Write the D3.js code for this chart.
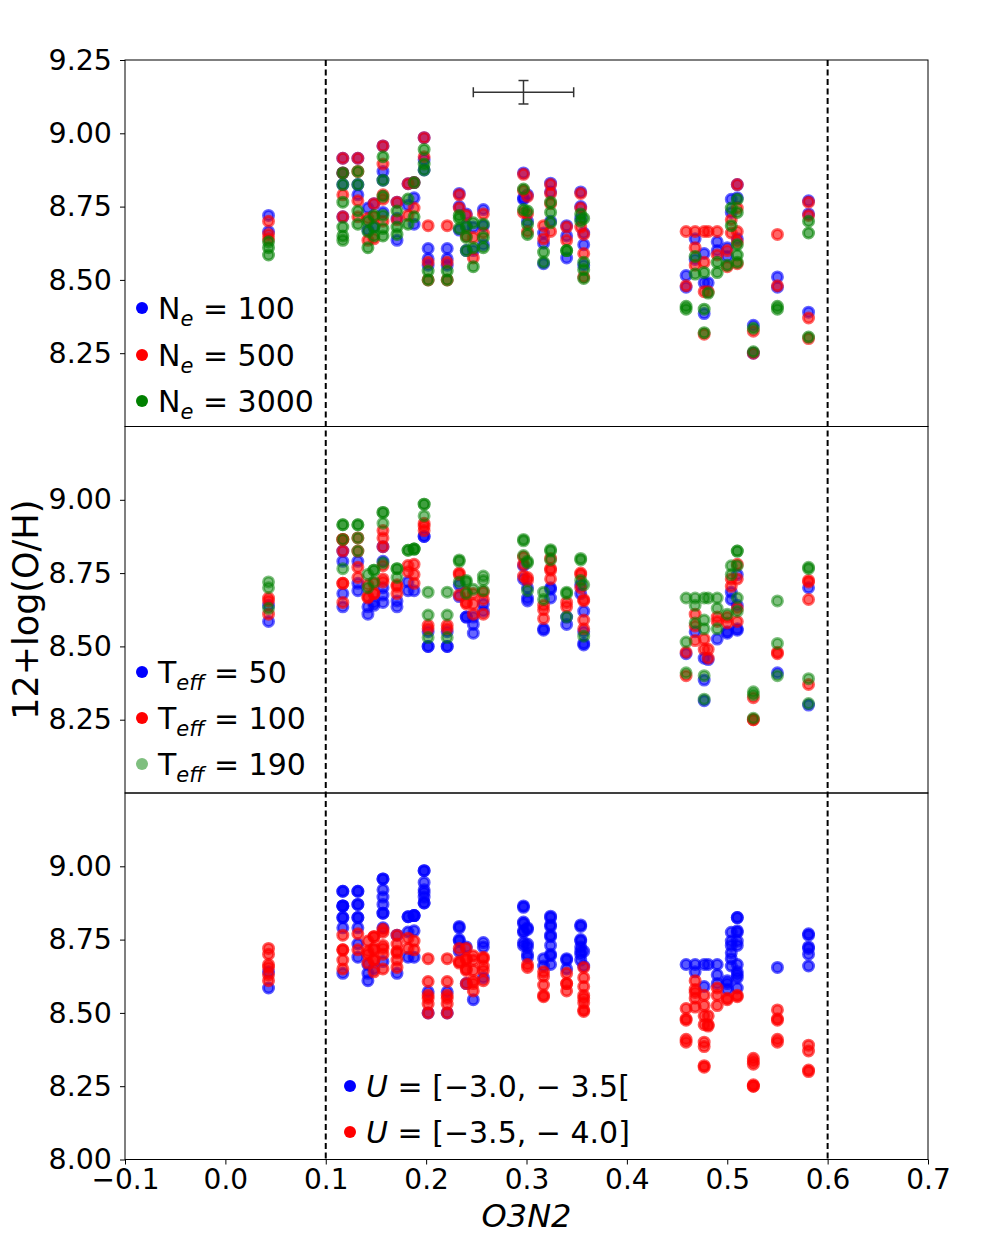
<!DOCTYPE html>
<html>
<head>
<meta charset="utf-8">
<script src="https://cdn.jsdelivr.net/npm/d3@7"></script>
<style>
  body { margin: 0; background: #fff; }
  text { font-family: "DejaVu Sans", sans-serif; }
</style>
</head>
<body>
<svg id="chart" width="1000" height="1235"></svg>
<script>
// O3N2 value of each galaxy
const galaxyX = [0.043, 0.117, 0.132, 0.142, 0.148, 0.157, 0.171, 0.182, 0.188, 0.198,
  0.202, 0.221, 0.233, 0.240, 0.247, 0.257, 0.297, 0.301, 0.317, 0.324, 0.340, 0.354,
  0.357, 0.459, 0.468, 0.477, 0.481, 0.490, 0.500, 0.504, 0.510, 0.526, 0.550, 0.581];

// model abundances per galaxy: [12+log(O/H), Ne index, Teff index, U index]
const models = [
  [[8.72,0,2,1],[8.70,1,2,1],[8.665,0,1,1],[8.655,1,1,1],[8.64,1,0,0],[8.63,2,2,1],[8.61,2,1,1],[8.585,2,0,0]],
  [[8.915,0,2,0],[8.915,1,2,0],[8.865,0,1,0],[8.865,1,1,0],[8.865,2,2,0],[8.825,0,0,0],[8.825,2,1,0],[8.79,1,0,0],[8.765,2,2,1],[8.715,0,1,1],[8.715,1,1,1],[8.68,2,0,1],[8.65,2,1,1],[8.635,2,0,0]],
  [[8.915,0,2,0],[8.915,1,2,0],[8.87,1,1,0],[8.87,2,2,0],[8.825,2,2,0],[8.825,0,1,0],[8.79,0,0,0],[8.77,1,1,1],[8.735,2,1,0],[8.715,1,0,1],[8.69,2,0,0]],
  [[8.745,0,2,1],[8.71,1,1,1],[8.70,2,2,1],[8.67,0,1,1],[8.665,2,1,0],[8.635,1,0,0],[8.61,2,0,0]],
  [[8.76,0,2,1],[8.76,1,2,1],[8.72,2,2,1],[8.715,1,1,1],[8.68,0,1,1],[8.68,2,1,1],[8.65,2,0,0],[8.64,1,0,1]],
  [[8.957,0,2,0],[8.957,1,2,0],[8.92,2,2,0],[8.895,1,1,0],[8.87,0,1,0],[8.84,0,0,0],[8.84,2,1,0],[8.79,1,0,0],[8.785,2,2,1],[8.775,1,1,1],[8.73,0,1,1],[8.72,2,1,1],[8.70,1,0,1],[8.675,2,0,0],[8.65,2,0,1]],
  [[8.765,0,2,0],[8.765,1,2,1],[8.735,2,2,1],[8.71,0,1,1],[8.705,1,1,1],[8.68,2,1,1],[8.655,2,0,1],[8.635,0,0,0]],
  [[8.828,0,2,0],[8.828,1,2,0],[8.776,2,1,0],[8.755,0,1,1],[8.72,1,0,1],[8.69,2,0,0]],
  [[8.832,0,2,0],[8.832,1,2,0],[8.832,2,2,0],[8.78,0,1,0],[8.745,1,1,1],[8.715,2,1,1],[8.69,0,0,0]],
  [[8.985,0,2,0],[8.985,1,2,0],[8.945,2,2,0],[8.92,1,1,0],[8.91,0,1,0],[8.895,2,1,0],[8.875,2,0,0],[8.875,0,0,0]],
  [[8.685,1,2,1],[8.607,0,2,1],[8.572,0,1,0],[8.56,1,1,1],[8.55,0,0,1],[8.53,2,2,1],[8.50,2,0,0],[8.50,1,0,1]],
  [[8.685,1,2,1],[8.607,0,2,1],[8.572,0,1,0],[8.56,1,1,1],[8.55,0,0,1],[8.53,2,2,1],[8.50,2,0,0],[8.50,1,0,1]],
  [[8.795,0,2,0],[8.79,1,2,0],[8.75,0,1,0],[8.745,1,1,0],[8.72,2,2,1],[8.71,2,0,0],[8.675,2,1,1],[8.67,0,0,1]],
  [[8.725,0,2,0],[8.72,1,2,1],[8.685,0,1,1],[8.68,2,2,1],[8.65,1,1,1],[8.645,2,1,1],[8.60,2,0,0],[8.60,0,0,1]],
  [[8.695,2,2,1],[8.68,0,1,1],[8.645,1,1,1],[8.61,2,1,1],[8.60,0,0,1],[8.575,1,0,1],[8.545,2,0,0]],
  [[8.74,0,2,0],[8.725,1,2,0],[8.69,2,2,1],[8.685,0,1,1],[8.66,1,1,1],[8.645,2,0,1],[8.62,0,0,0],[8.61,2,1,1]],
  [[8.865,0,2,0],[8.86,1,2,0],[8.81,2,2,0],[8.805,1,1,0],[8.78,0,1,0],[8.775,0,0,0],[8.74,2,1,0],[8.73,1,0,0]],
  [[8.79,0,2,0],[8.785,1,2,0],[8.735,2,1,0],[8.725,1,1,0],[8.70,0,0,0],[8.69,2,2,0],[8.665,1,0,1],[8.655,2,0,1]],
  [[8.685,1,2,0],[8.66,0,2,0],[8.64,1,1,1],[8.625,0,1,1],[8.595,2,1,1],[8.56,2,0,1],[8.555,0,0,1]],
  [[8.83,0,2,0],[8.825,1,2,0],[8.80,0,1,0],[8.795,1,2,0],[8.765,2,1,0],[8.76,1,1,0],[8.73,2,1,0],[8.70,0,0,0],[8.695,2,0,0],[8.665,1,0,0]],
  [[8.685,0,2,0],[8.68,1,2,0],[8.65,0,1,0],[8.635,1,1,1],[8.60,2,0,1],[8.60,2,2,1],[8.575,0,0,1]],
  [[8.80,0,2,0],[8.795,1,2,0],[8.75,0,1,0],[8.745,1,1,0],[8.725,2,2,0],[8.71,0,0,0],[8.70,2,1,0],[8.68,1,0,0]],
  [[8.71,2,2,0],[8.66,0,1,0],[8.655,1,1,1],[8.62,0,0,1],[8.59,1,1,1],[8.56,2,1,1],[8.55,0,0,1],[8.535,2,2,1],[8.51,1,0,1],[8.505,2,0,1]],
  [[8.665,1,2,0],[8.515,0,2,1],[8.48,1,1,1],[8.475,0,0,1],[8.41,2,2,1],[8.40,2,1,1]],
  [[8.665,1,2,0],[8.64,0,2,0],[8.61,1,1,1],[8.58,2,2,1],[8.57,0,1,1],[8.55,1,0,1],[8.52,2,1,1]],
  [[8.665,1,2,0],[8.59,0,2,0],[8.56,1,2,1],[8.525,2,1,1],[8.49,0,1,1],[8.46,1,0,1],[8.40,2,2,1],[8.385,0,0,1],[8.32,2,2,1],[8.315,1,0,1]],
  [[8.665,1,2,0],[8.49,0,1,1],[8.46,1,1,1],[8.455,2,0,1]],
  [[8.665,1,2,0],[8.63,0,2,0],[8.60,0,1,0],[8.585,1,1,1],[8.56,2,2,1],[8.525,2,0,1]],
  [[8.61,0,2,0],[8.60,1,1,0],[8.58,0,1,0],[8.55,2,0,1],[8.545,1,0,1]],
  [[8.775,0,2,0],[8.745,2,2,0],[8.73,0,1,0],[8.705,1,1,0],[8.685,2,0,0],[8.66,1,0,0]],
  [[8.825,0,2,0],[8.825,1,2,0],[8.78,0,1,0],[8.775,2,2,0],[8.745,1,0,0],[8.73,2,1,0],[8.665,1,2,0],[8.64,0,0,0],[8.63,1,1,0],[8.62,2,2,0],[8.585,2,1,0],[8.56,2,0,1],[8.555,1,0,1]],
  [[8.345,0,2,1],[8.335,2,2,1],[8.325,1,1,1],[8.255,2,2,1],[8.25,1,1,1],[8.25,0,1,1]],
  [[8.655,1,2,0],[8.51,0,2,1],[8.48,1,1,1],[8.475,0,1,1],[8.41,2,0,1],[8.40,2,2,1]],
  [[8.77,0,2,0],[8.765,1,2,0],[8.725,0,1,0],[8.72,1,1,0],[8.70,2,0,0],[8.66,2,1,0],[8.39,0,2,1],[8.37,1,1,1],[8.305,2,2,1],[8.30,1,0,1]]
];

const neLabels = ["100", "500", "3000"];
const teffLabels = ["50", "100", "190"];
const uLabels = ["[\u22123.0, \u2212 3.5[", "[\u22123.5, \u2212 4.0]"];

const xTicks = [-0.1, 0.0, 0.1, 0.2, 0.3, 0.4, 0.5, 0.6, 0.7];
const yTicksTop = [8.25, 8.50, 8.75, 9.00, 9.25];
const yTicksMid = [8.25, 8.50, 8.75, 9.00];
const yTicksBot = [8.00, 8.25, 8.50, 8.75, 9.00];
const limitsX = [0.1, 0.6];
// representative uncertainty: [x, y, xerr, yerr]
const errBar = [0.297, 9.14, 0.05, 0.04];

const svg = d3.select("#chart");
const plotLeft = 125, plotRight = 928, plotTop = 60, panelH = 366.5;

const x = d3.scaleLinear().domain([-0.1, 0.7]).range([plotLeft, plotRight]);

const points = [];
galaxyX.forEach((gx, i) => {
  models[i].forEach(m => points.push({ x: gx, y: m[0], ne: m[1], teff: m[2], u: m[3] }));
});

const panels = [
  { key: "ne", ticks: yTicksTop, colors: ["#0000ff", "#ff0000", "#008000"],
    alpha: [0.6, 0.6, 0.6], legAlpha: [1, 1, 1], legX: 142, legY: [308, 355, 401],
    labels: neLabels, sym: "N", sub: "e" },
  { key: "teff", ticks: yTicksMid, colors: ["#0000ff", "#ff0000", "#008000"],
    alpha: [0.6, 0.6, 0.5], legAlpha: [1, 1, 0.5], legX: 142, legY: [672, 718, 764],
    labels: teffLabels, sym: "T", sub: "eff" },
  { key: "u", ticks: yTicksBot, colors: ["#0000ff", "#ff0000"],
    alpha: [0.65, 0.65], legAlpha: [1, 1], legX: 350, legY: [1086, 1132],
    labels: uLabels, sym: "U", sub: null }
];

panels.forEach((p, i) => {
  const y0 = plotTop + panelH * i, y1 = y0 + panelH;
  const y = d3.scaleLinear().domain([8.0, 9.25]).range([y1, y0]);
  const g = svg.append("g");

  // points, drawn series by series so later ones sit on top
  p.colors.forEach((c, k) => {
    g.append("g")
      .selectAll("circle")
      .data(points.filter(d => d[p.key] === k))
      .enter()
      .append("circle")
      .attr("cx", d => x(d.x))
      .attr("cy", d => y(d.y))
      .attr("r", 5)
      .attr("fill", c)
      .attr("fill-opacity", p.alpha[k])
      .attr("stroke", c)
      .attr("stroke-opacity", p.alpha[k])
      .attr("stroke-width", 3);
  });

  // y axis
  const ax = g.append("g")
    .attr("transform", `translate(${plotLeft},0)`)
    .call(d3.axisLeft(y).tickValues(p.ticks).tickFormat(d3.format(".2f")).tickSize(5).tickPadding(8));
  ax.select(".domain").remove();
  ax.selectAll("text").attr("font-size", 28.5).attr("fill", "#000")
    .style("font-family", "DejaVu Sans, sans-serif");
  ax.selectAll("line").attr("stroke", "#000");

  // frame
  g.append("rect")
    .attr("x", plotLeft).attr("y", y0)
    .attr("width", plotRight - plotLeft).attr("height", panelH)
    .attr("fill", "none").attr("stroke", "#000").attr("stroke-width", 1);

  // legend
  p.labels.forEach((lab, k) => {
    const ly = p.legY[k];
    g.append("circle")
      .attr("cx", p.legX).attr("cy", ly).attr("r", 6)
      .attr("fill", p.colors[k]).attr("fill-opacity", p.legAlpha[k]);
    const t = g.append("text")
      .attr("x", p.legX + 16).attr("y", ly + 11)
      .attr("font-size", 30).attr("fill", "#000");
    if (p.sub) {
      t.append("tspan").text(p.sym);
      t.append("tspan").attr("dy", 7).attr("font-size", 21).attr("font-style", "italic").text(p.sub);
      t.append("tspan").attr("dy", -7).text(" = " + lab);
    } else {
      t.append("tspan").attr("font-style", "italic").text(p.sym);
      t.append("tspan").text(" = " + lab);
    }
  });

  if (i === 0) {
    // error bar
    const [ex, ey, exe, eye] = errBar;
    const eb = g.append("g").attr("stroke", "#333").attr("stroke-width", 1.5);
    eb.append("line").attr("x1", x(ex - exe)).attr("x2", x(ex + exe)).attr("y1", y(ey)).attr("y2", y(ey));
    eb.append("line").attr("x1", x(ex)).attr("x2", x(ex)).attr("y1", y(ey - eye)).attr("y2", y(ey + eye));
    [ex - exe, ex + exe].forEach(v => eb.append("line")
      .attr("x1", x(v)).attr("x2", x(v)).attr("y1", y(ey) - 5).attr("y2", y(ey) + 5));
    [ey - eye, ey + eye].forEach(v => eb.append("line")
      .attr("x1", x(ex) - 5).attr("x2", x(ex) + 5).attr("y1", y(v)).attr("y2", y(v)));
  }

  if (i === panels.length - 1) {
    const xa = g.append("g")
      .attr("transform", `translate(0,${y1})`)
      .call(d3.axisBottom(x).tickValues(xTicks).tickFormat(d => d3.format(".1f")(d).replace("-", "\u2212")).tickSize(5).tickPadding(5));
    xa.select(".domain").remove();
    xa.selectAll("text").attr("font-size", 28).attr("fill", "#000")
      .style("font-family", "DejaVu Sans, sans-serif");
    xa.selectAll("line").attr("stroke", "#000");
  }
});

// dashed limits spanning all panels
limitsX.forEach(v => {
  svg.append("line")
    .attr("x1", x(v)).attr("x2", x(v))
    .attr("y1", plotTop).attr("y2", plotTop + panelH * 3)
    .attr("stroke", "#000").attr("stroke-width", 2)
    .attr("stroke-dasharray", "6,3.5");
});

// axis titles
svg.append("text")
  .attr("transform", `translate(38,${plotTop + panelH * 1.5}) rotate(-90)`)
  .attr("text-anchor", "middle")
  .attr("font-size", 35)
  .text("12+log(O/H)");

svg.append("text")
  .attr("x", (plotLeft + plotRight) / 2).attr("y", 1227)
  .attr("text-anchor", "middle")
  .attr("font-size", 32)
  .attr("font-style", "italic")
  .text("O3N2");
</script>
</body>
</html>
